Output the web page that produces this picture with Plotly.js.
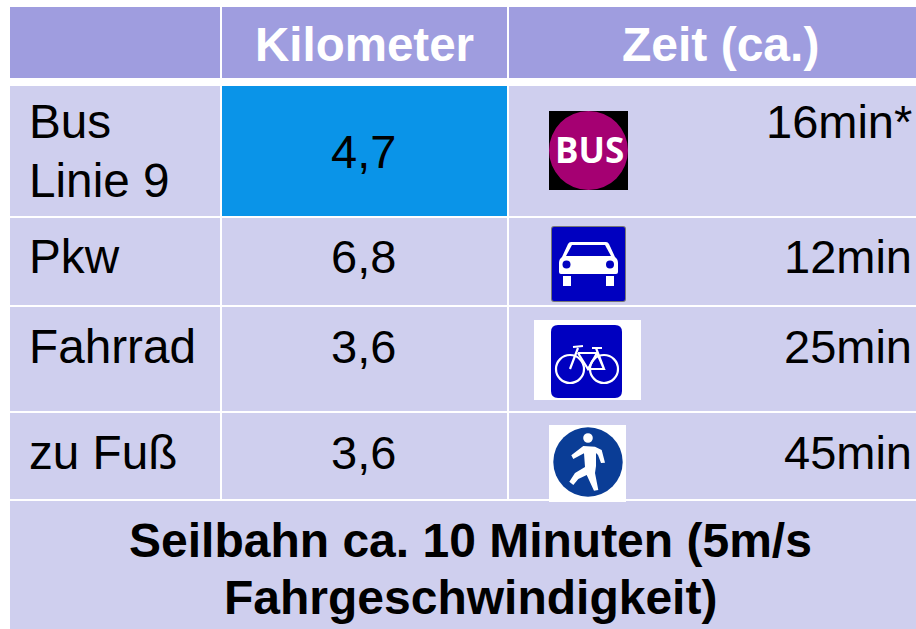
<!DOCTYPE html>
<html><head><meta charset="utf-8">
<script src="https://cdn.plot.ly/plotly-3.0.1.min.js"></script>
<style>html,body{margin:0;padding:0;background:#fff}#c{width:916px;height:629px}</style>
</head><body><div id="c"></div>
<script>
const columnHeaders = ["", "Kilometer", "Zeit (ca.)"];
const rowLabels = [["Bus","Linie 9"], ["Pkw"], ["Fahrrad"], ["zu Fuß"]];
const kilometers = ["4,7", "6,8", "3,6", "3,6"];
const durations = ["16min*", "12min", "25min", "45min"];
const footerLines = ["Seilbahn ca. 10 Minuten (5m/s", "Fahrgeschwindigkeit)"];
const colEdges = [[10,220],[222,507],[509,916]];
const rowEdges = [[86,216],[218,305],[307,411],[413,499]];
const headerEdge = [7,78];
const footerEdge = [501,629];
const colHeader = "#9f9ddf", colBody = "#cfcfee", colHighlight = "#0a94e8", fontName = "Liberation Sans";

const shapes = [], annotations = [];
function rect(x0,x1,y0,y1,fill){shapes.push({type:"rect",xref:"x",yref:"y",x0,x1,y0,y1,fillcolor:fill,line:{width:0},layer:"below"});}
function label(x,y,text,size,opts){annotations.push(Object.assign({xref:"x",yref:"y",x,y,text,showarrow:false,xanchor:"center",yanchor:"middle",font:{family:fontName,size,color:"#000"}},opts||{}));}
function path(d,fill,line){shapes.push({type:"path",xref:"x",yref:"y",path:d,fillcolor:fill,line:line||{width:0},layer:"above"});}
function box(x0,x1,y0,y1,fill){shapes.push({type:"rect",xref:"x",yref:"y",x0,x1,y0,y1,fillcolor:fill,line:{width:0},layer:"above"});}
function circ(cx,cy,r,fill,line){shapes.push({type:"circle",xref:"x",yref:"y",x0:cx-r,x1:cx+r,y0:cy-r,y1:cy+r,fillcolor:fill,line:line||{width:0},layer:"above"});}

colEdges.forEach(c=>rect(c[0],c[1],headerEdge[0],headerEdge[1],colHeader));
rowEdges.forEach((r,i)=>colEdges.forEach((c,j)=>rect(c[0],c[1],r[0],r[1],(i===0&&j===1)?colHighlight:colBody)));
rect(10,916,footerEdge[0],footerEdge[1],colBody);

label(364,44,"<b>"+columnHeaders[1]+"</b>",47.5,{font:{family:fontName,size:47.5,color:"#fff"}});
label(720,44,"<b>"+columnHeaders[2]+"</b>",48,{font:{family:fontName,size:48,color:"#fff"}});

const labelY = [[121,180],[256],[346],[452.5]];
rowLabels.forEach((lines,i)=>lines.forEach((t,k)=>label(26.5,labelY[i][k],t,47.7,{xanchor:"left"})));
const kmY = [151,256,346,452.5];
kilometers.forEach((t,i)=>label(363.5,kmY[i],t,47));
const durY = [121,256,346,452.5];
durations.forEach((t,i)=>label(914,durY[i],t,47,{xanchor:"right"}));
label(470.5,540.5,"<b>"+footerLines[0]+"</b>",48);
label(470.5,597.5,"<b>"+footerLines[1]+"</b>",48);

// bus icon
box(549,628,111,190,"#000");
circ(588.5,150.5,39.5,"#a50072");
annotations.push({xref:"x",yref:"y",x:589.5,y:149,text:"<b>BUS</b>",showarrow:false,font:{family:"Open Sans",size:35,color:"#fff"}});
// car icon
path("M 554 226 L 623 226 Q 626 226 626 229 L 626 299 Q 626 302 623 302 L 554 302 Q 551 302 551 299 L 551 229 Q 551 226 554 226 Z","#777");
path("M 554 227 L 623 227 Q 625 227 625 229 L 625 299 Q 625 301 623 301 L 554 301 Q 552 301 552 299 L 552 229 Q 552 227 554 227 Z","#0000c0");
path("M 571 242 L 606 242 Q 608 242 609 244 L 615 257 Q 618 259 618 263 L 618 272 Q 618 274 616 274 L 561 274 Q 559 274 559 272 L 559 263 Q 559 259 562 257 L 568 244 Q 569 242 571 242 Z","#fff");
path("M 572 245 L 605 245 L 611 256 L 566 256 Z","#0000c0");
box(563,571,276,286,"#fff");
box(606,614,276,286,"#fff");
circ(566.5,264.5,4,"#0000c0");
circ(610,264.5,4,"#0000c0");
// bicycle icon
box(534,641,320,400,"#fff");
path("M 558 325 L 615 325 Q 622 325 622 332 L 622 391 Q 622 398 615 398 L 558 398 Q 551 398 551 391 L 551 332 Q 551 325 558 325 Z","#0000c0");
const whiteLine={color:"#ffffff",width:2.2};
circ(570,369,14,"rgba(0,0,0,0)",whiteLine);
circ(604,369,14,"rgba(0,0,0,0)",whiteLine);
path("M 570 369 L 578 348 M 573 347 L 583 346 M 578 353 L 597 353 L 588 369 L 578 353 M 588 369 L 604 369 L 597 353 M 604 369 L 596 348 L 602 348 M 592 348 L 596 348","rgba(0,0,0,0)",whiteLine);
// pedestrian icon
box(549,626,425,502,"#fff");
circ(588,462,34.7,"#0a3d96");
circ(588,438,4.8,"#fff");
path("M 583.3 446 L 595 446.7 L 601.7 450 L 605 462.7 L 601 463 L 598 455 L 596 453 L 596 466 L 595 473 L 598.3 490 L 594 490.7 L 586.7 475 L 578.3 479 L 573.3 485 L 569.3 481.7 L 575 473 L 585 467 L 584 453.3 L 573.3 459 L 571.3 455.3 Z","#fff");

Plotly.newPlot("c",[{x:[0],y:[0],type:"scatter",mode:"markers",marker:{opacity:0},hoverinfo:"skip",showlegend:false}],{
 width:916,height:629,margin:{l:0,r:0,t:0,b:0},paper_bgcolor:"#fff",plot_bgcolor:"#fff",
 xaxis:{range:[0,916],visible:false,fixedrange:true},
 yaxis:{range:[629,0],visible:false,fixedrange:true},
 shapes,annotations,showlegend:false
},{displayModeBar:false,staticPlot:true});
</script></body></html>
